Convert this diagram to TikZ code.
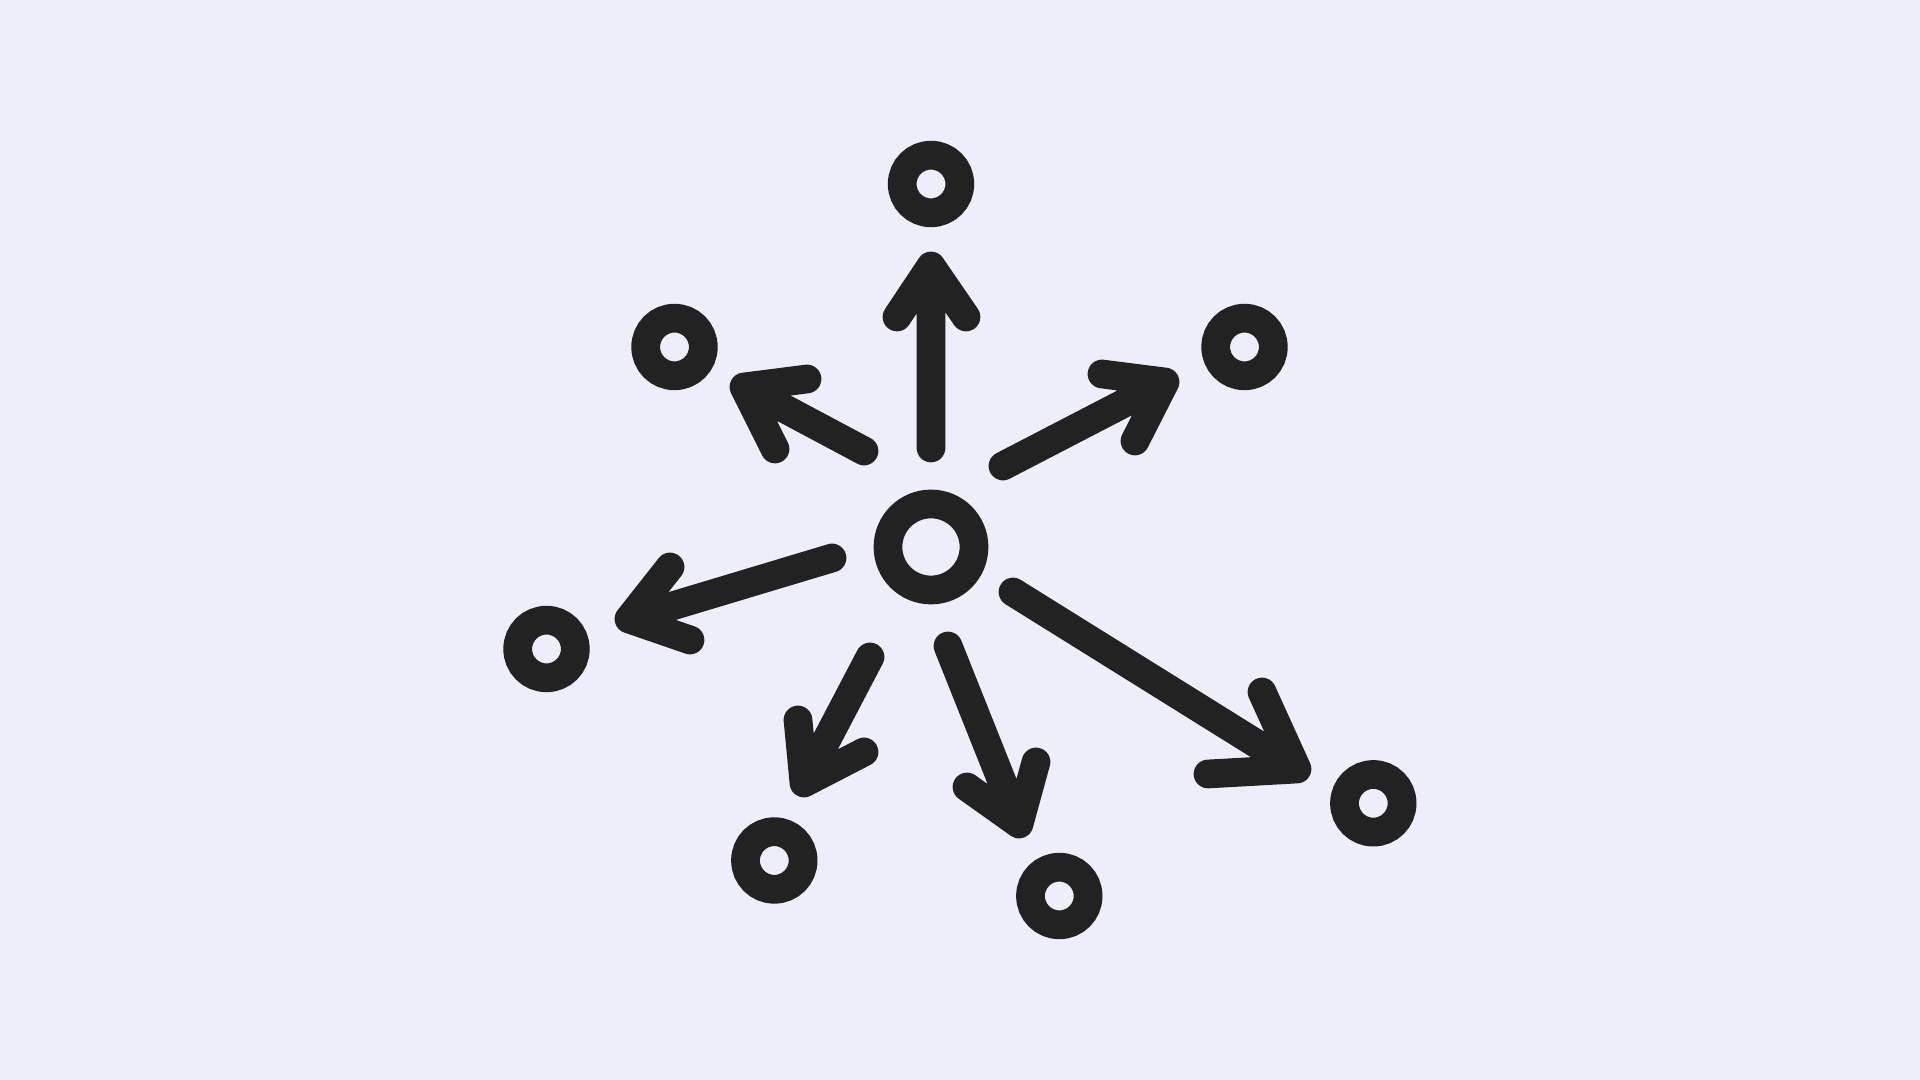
\documentclass[tikz,border=0pt]{standalone}
\definecolor{bgc}{RGB}{238,237,250}
\definecolor{ink}{RGB}{34,34,34}
\begin{document}
\begin{tikzpicture}[x=0.01cm,y=-0.01cm,
  ring/.style={circle,draw=ink,line width=0.287cm,inner sep=0pt,minimum size=0.576cm},
  bigring/.style={circle,draw=ink,line width=0.287cm,inner sep=0pt,minimum size=0.86cm},
  arr/.style={draw=ink,line width=0.287cm,line cap=round,line join=round}]
\fill[bgc] (0,0) rectangle (1920,1080);
\useasboundingbox (0,0) rectangle (1920,1080);
% circles
\node[bigring] (c0) at (931,547) {};
\node[ring] (c1) at (931,184) {};
\node[ring] (c2) at (674.5,347) {};
\node[ring] (c3) at (1244.5,347) {};
\node[ring] (c4) at (546.5,649) {};
\node[ring] (c5) at (774.3,860.5) {};
\node[ring] (c6) at (1059.3,896) {};
\node[ring] (c7) at (1373.3,803.3) {};
% arrow 1 (up)
\coordinate (s1) at (931,448); \coordinate (t1) at (931,266);
\coordinate (a1) at (897,317); \coordinate (b1) at (966,317);
\draw[arr] (s1) -- (t1) (a1) -- (t1) -- (b1);
% arrow 2 (upper-left)
\coordinate (s2) at (864,451); \coordinate (t2) at (744,387);
\coordinate (a2) at (807,379); \coordinate (b2) at (775,449);
\draw[arr] (s2) -- (t2) (a2) -- (t2) -- (b2);
% arrow 3 (upper-right)
\coordinate (s3) at (1003,466); \coordinate (t3) at (1165,382);
\coordinate (a3) at (1102,374); \coordinate (b3) at (1135,441);
\draw[arr] (s3) -- (t3) (a3) -- (t3) -- (b3);
% arrow 4 (left)
\coordinate (s4) at (832,558); \coordinate (t4) at (629,619);
\coordinate (a4) at (670,567); \coordinate (b4) at (690,640);
\draw[arr] (s4) -- (t4) (a4) -- (t4) -- (b4);
% arrow 5 (lower-left)
\coordinate (s5) at (870,657); \coordinate (t5) at (804,783);
\coordinate (a5) at (798,720); \coordinate (b5) at (864,752);
\draw[arr] (s5) -- (t5) (a5) -- (t5) -- (b5);
% arrow 6 (down)
\coordinate (s6) at (948,646); \coordinate (t6) at (1019,824);
\coordinate (a6) at (967,787); \coordinate (b6) at (1036,762);
\draw[arr] (s6) -- (t6) (a6) -- (t6) -- (b6);
% arrow 7 (lower-right)
\coordinate (s7) at (1013,592); \coordinate (t7) at (1297,769);
\coordinate (a7) at (1262,692); \coordinate (b7) at (1208,774);
\draw[arr] (s7) -- (t7) (a7) -- (t7) -- (b7);
\end{tikzpicture}
\end{document}
